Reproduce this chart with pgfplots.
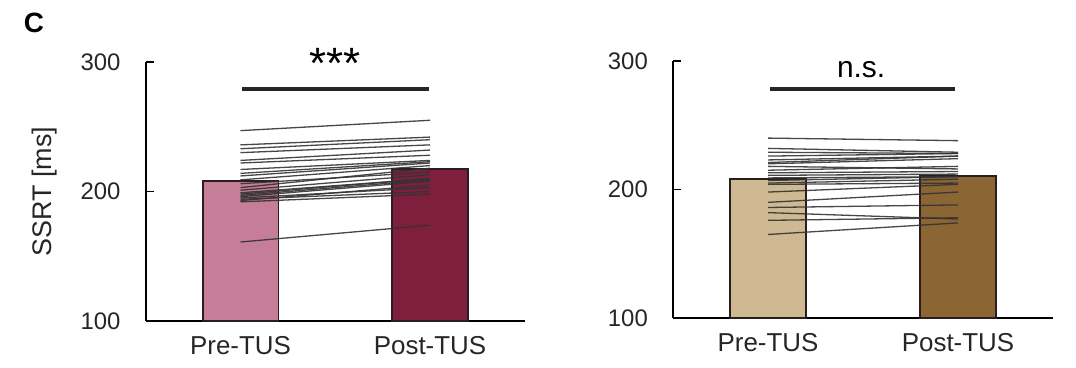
\documentclass[border=0pt]{standalone}
\usepackage{pgfplots}
\pgfplotsset{compat=1.18}
\usepackage{fontspec}
\setmainfont{Liberation Sans}
\definecolor{preL}{RGB}{198,126,152}
\definecolor{postL}{RGB}{126,31,62}
\definecolor{preR}{RGB}{207,185,146}
\definecolor{postR}{RGB}{140,101,52}
\definecolor{barEdge}{RGB}{40,30,30}
\newcommand{\sub}[2]{\addplot[subj] coordinates {(0,#1) (1,#2)};}
\begin{document}
\begin{tikzpicture}
\useasboundingbox (0,0) rectangle (1076bp,368bp);
\pgfplotsset{
  panel/.style={
    scale only axis, xmin=-0.5, xmax=1.5, ymin=100, ymax=300,
    axis lines=left, axis line style={line width=1.6bp, -, black},
    clip=false,
    ytick={100,200,300}, xtick={0,1}, xticklabels={Pre-TUS,Post-TUS},
    tick align=inside, major tick length=8bp,
    y tick style={line width=1.6bp, black},
    x tick style={draw=none},
    tick label style={font=\fontsize{24}{24}\selectfont, text=black!85},
    /pgf/number format/assume math mode=true,
    yticklabel style={anchor=east, inner sep=0pt, xshift=-25bp},
    xticklabel style={anchor=north, inner sep=0pt, yshift=-15bp, font=\fontsize{26}{26}\selectfont},
  },
  subj/.style={line width=1.3bp, color=black!80, opacity=0.9},
  bar/.style={draw=barEdge, line width=1.8bp},
}
\node[font=\fontsize{28}{28}\selectfont\bfseries] at (34bp,345bp) {C};
% Left panel
\begin{axis}[panel, at={(145.75bp,47bp)}, anchor=south west, width=379bp, height=259bp,
  ylabel={SSRT [ms]},
  ylabel style={font=\fontsize{27}{27}\selectfont, text=black!85, at={(axis description cs:-0.268,0.5)}, anchor=center}]
\addplot[bar, fill=preL] coordinates {(-0.2,100) (-0.2,208.1) (0.2,208.1) (0.2,100)} -- cycle;
\addplot[bar, fill=postL] coordinates {(0.8,100) (0.8,217.4) (1.2,217.4) (1.2,100)} -- cycle;
\sub{247}{255}
\sub{236}{242}
\sub{233}{240}
\sub{230}{236}
\sub{224}{232}
\sub{222}{228}
\sub{217}{224}
\sub{214}{223}
\sub{212}{222}
\sub{209}{220}
\sub{206}{215}
\sub{203}{218}
\sub{201}{213}
\sub{199}{210}
\sub{198}{210}
\sub{197}{209}
\sub{196}{208}
\sub{195}{203}
\sub{194}{200}
\sub{193}{205}
\sub{192}{198}
\sub{161}{174}
\addplot[line width=3.5bp, black!85] coordinates {(0.01,279.2) (0.995,279.2)};
\node[font=\fontsize{44}{44}\selectfont, anchor=base] at (axis cs:0.5,287) {***};
\end{axis}
% Right panel
\begin{axis}[panel, at={(673bp,50bp)}, anchor=south west, width=380bp, height=257bp]
\addplot[bar, fill=preR] coordinates {(-0.2,100) (-0.2,208.2) (0.2,208.2) (0.2,100)} -- cycle;
\addplot[bar, fill=postR] coordinates {(0.8,100) (0.8,210.5) (1.2,210.5) (1.2,100)} -- cycle;
\sub{240}{238}
\sub{232}{229}
\sub{229}{228}
\sub{226}{228}
\sub{223}{226}
\sub{221}{226}
\sub{220}{224}
\sub{218}{216}
\sub{215}{218}
\sub{213}{214}
\sub{211}{212}
\sub{209}{210}
\sub{207}{210}
\sub{205}{208}
\sub{204}{205}
\sub{198}{204}
\sub{190}{198}
\sub{186}{188}
\sub{182}{177}
\sub{176}{178}
\sub{165}{174}
\addplot[line width=3.5bp, black!85] coordinates {(0.01,278.2) (0.985,278.2)};
\node[font=\fontsize{30}{30}\selectfont, anchor=base] at (axis cs:0.49,287.5) {n.s.};
\end{axis}
\end{tikzpicture}
\end{document}
